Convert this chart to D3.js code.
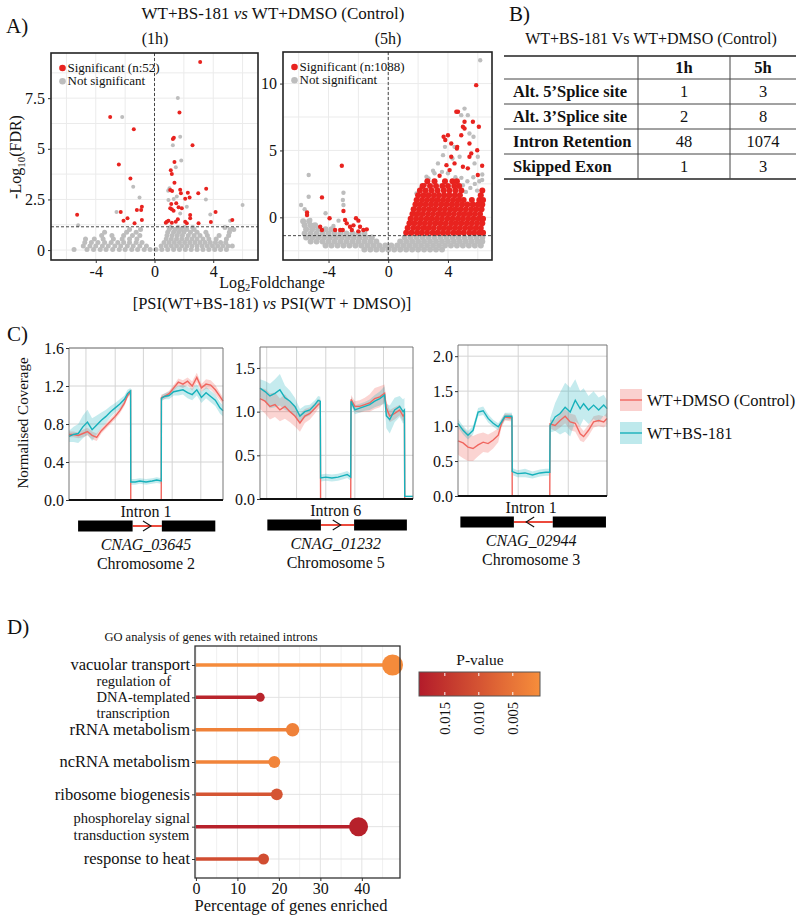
<!DOCTYPE html>
<html><head><meta charset="utf-8">
<script src="https://cdn.jsdelivr.net/npm/d3@7"></script>
<style>body{margin:0;background:#fff} svg{font-family:"Liberation Serif","Times New Roman",serif}</style>
</head><body><svg id="c" width="800" height="918"></svg>
<script>
// ================= DATA =================
// Panel A – volcano plots ([log2FC, -log10 FDR])
const h1Sig = [[3.11,9.29],[1.70,6.79],[-3.02,6.57],[-1.41,5.96],[1.32,5.55],[1.25,5.49],[2.59,5.17],[-2.43,4.22],[1.36,4.35],[1.11,3.94],[-1.64,3.53],[1.18,3.76],[1.36,3.33],[3.52,3.03],[1.07,2.97],[1.20,2.92],[1.75,2.98],[1.80,2.80],[2.27,2.83],[2.98,2.80],[2.39,2.60],[2.09,2.54],[1.48,2.31],[1.14,2.27],[-0.86,2.14],[-0.91,1.98],[-1.20,1.98],[1.07,2.06],[1.18,2.01],[1.30,1.94],[1.64,2.11],[1.86,2.06],[-5.27,1.75],[-2.30,1.88],[-1.84,1.57],[-2.11,1.45],[-1.36,1.32],[-0.86,1.48],[0.84,1.40],[0.95,1.45],[1.18,1.35],[1.45,1.40],[1.59,1.52],[2.09,1.40],[2.20,1.32],[2.43,1.57],[2.43,1.73],[3.00,1.32],[3.84,1.38],[4.16,1.88],[5.30,1.48],[0.77,1.35]];
const h1NsOut = [[1.59,7.51],[-2.20,6.57],[1.75,5.60],[1.25,5.17],[1.82,4.42],[1.45,4.09],[-1.45,3.13],[0.93,2.93],[1.52,2.64],[3.50,2.50],[-1.02,2.60],[-2.59,1.88],[6.00,2.22],[3.80,1.76],[1.75,1.81],[2.20,2.14],[-5.20,1.22],[5.15,1.45],[0.95,2.47],[1.02,3.05],[1.31,2.52]];
const h1NsRows = [
 [0.03,[-5.48,-4.6,-4.15,-3.7,-3.3,-2.85,-2.4,-2.0,-1.55,-1.15,-0.7,-0.3,0.1,0.5,0.9,1.3,1.7,2.1,2.5,2.9,3.3,3.7,4.1,4.5,4.9]],
 [0.2,[-4.85,-4.4,-4.0,-3.55,-3.15,-2.7,-2.3,-1.85,-1.45,-1.0,-0.55,0.45,0.8,1.15,1.5,1.85,2.2,2.55,2.9,3.25,3.6,3.95,4.3,4.65,5.0,5.3]],
 [0.37,[-4.75,-4.3,-3.85,-3.4,-2.95,-2.5,-2.1,-1.7,-1.25,-0.85,0.65,1.0,1.35,1.7,2.05,2.4,2.75,3.1,3.45,3.8,4.15,4.5,4.85]],
 [0.55,[-4.7,-4.1,-3.5,-2.8,-2.2,-1.7,-1.2,0.8,1.15,1.5,1.85,2.2,2.55,2.9,3.3,3.7,4.2,4.9]],
 [0.72,[-3.6,-2.9,-2.1,-1.5,-1.0,0.85,1.2,1.55,1.9,2.3,2.7,3.1,3.6,4.4,5.05]],
 [0.88,[-3.4,-1.9,-1.25,0.9,1.3,1.65,2.0,2.45,2.9,3.5,5.1]],
 [1.02,[-1.7,-0.95,1.0,1.4,1.8,2.2,2.7,5.15,5.4]],
 [1.12,[1.1,1.6,2.05,2.6,4.8]]
];
const h5SigOut = [[5.89,9.88],[4.67,7.89],[4.56,7.89],[5.11,7.14],[5.67,7.14],[5.00,6.77],[5.11,6.64],[6.07,6.77],[3.71,6.02],[3.82,5.78],[4.22,5.52],[5.44,5.52],[4.00,6.14],[4.89,6.14],[4.62,5.27],[5.44,4.53],[5.56,4.78],[5.96,5.02],[6.29,3.86],[5.00,3.78],[3.44,3.11],[4.11,3.53],[4.44,4.03],[4.22,4.53],[4.60,5.15],[2.44,2.41],[6.00,3.16],[5.33,3.66],[3.9,3.9],[-3.11,3.86],[-4.44,1.49],[-5.44,0.37],[-5.44,0.17],[-3.93,-0.07],[-3.0,0.47],[-2.89,-0.2],[-2.16,-0.07],[-2.0,-0.25],[-2.78,-0.45],[-3.22,-0.95],[-3.05,-0.95],[-4.56,-0.7],[-4.44,-0.95],[-2.56,-0.7],[-2.33,-0.6],[-1.89,-0.7],[-1.67,-0.95],[-1.44,-0.9],[-2.44,-0.95],[-2.0,-1.05],[-3.56,-0.95]];
const h5NsOut = [[6.16,11.74],[5.11,8.13],[4.89,7.64],[5.33,7.64],[4.44,5.27],[3.8,5.27],[3.67,4.65],[4.78,4.53],[5.71,6.02],[5.44,6.27],[4.3,4.4],[3.33,4.03],[3.0,3.48],[6.0,4.53],[5.78,4.03],[6.29,2.79],[2.56,3.03],[1.89,1.79],[-5.33,3.16],[-5.33,1.54],[-3.0,1.84],[-3.04,1.29],[-3.0,0.92],[-5.84,0.92],[-5.6,0.6],[-5.22,-0.2],[-5.0,-0.57],[-3.33,-0.25],[-3.67,-0.65],[-4.2,0.3],[2.2,2.2],[2.7,2.9],[3.1,3.3],[3.6,3.4],[5.2,1.9],[5.5,2.2],[5.8,2.5],[6.1,2.7],[5.3,2.7],[5.7,3.0],[6.3,3.2],[5.0,2.4],[4.9,2.95],[5.95,2.0],[4.5,3.0],[4.0,3.3]];
const h5NsRows = [
 [-2.4,[-1.6,-1.2,-0.8,-0.4,0,0.4,0.8,1.2,1.6,2.0,2.4,2.8,3.2,3.6]],
 [-2.1,[-4.2,-3.8,-3.4,-3.0,-2.6,-2.2,-1.8,-1.4,-1.0,-0.6,-0.2,0.2,0.6,1.0,1.4,1.8,2.2,2.6,3.0,3.4,3.8,4.2,4.6,5.0,5.4,5.8,6.2]],
 [-1.8,[-5.2,-4.8,-4.4,-4.0,-3.6,-3.2,-2.8,-2.4,-2.0,-1.6,-1.2,-0.8,0.8,1.2,1.6,2.0,2.4,2.8,3.2,3.6,4.0,4.4,4.8,5.2,5.6,6.0,6.3]],
 [-1.5,[-5.5,-5.1,-4.7,-4.3,-3.9,-3.5,-3.1,-2.7,-2.3,-1.9,-1.5,-1.1,1.1,1.5,1.9,2.3,2.7,3.1,3.5,3.9,4.3,4.7,5.1,5.5,5.9,6.3]],
 [-1.2,[-5.6,-5.2,-4.8,-4.4,-4.0,-3.6,-3.2,-2.8,-2.4,-2.0,-1.6]],
 [-0.9,[-5.5,-5.1,-4.7,-4.2,-3.8]],
 [-0.6,[-5.6,-5.2,-4.9]],
 [-0.3,[-5.7,-5.3]]
];
const h5SigRows = [
 [-1.15,[1.2,1.55,1.92,2.25,2.6,2.97,3.3,3.66,4.0,4.36,4.7,5.05,5.42,5.75,6.1,6.35]],
 [-0.8,[1.3,1.67,2.0,2.36,2.7,3.05,3.42,3.75,4.1,4.46,4.8,5.15,5.5,5.86,6.2]],
 [-0.45,[1.42,1.75,2.12,2.45,2.8,3.16,3.5,3.85,4.22,4.55,4.9,5.26,5.6,5.95,6.3]],
 [-0.1,[1.5,1.86,2.2,2.56,2.9,3.25,3.6,3.96,4.3,4.66,5.0,5.35,5.7,6.06,6.35]],
 [0.25,[1.62,1.95,2.3,2.66,3.0,3.36,3.7,4.05,4.4,4.76,5.1,5.45,5.8,6.15]],
 [0.6,[1.7,2.06,2.4,2.75,3.1,3.46,3.8,4.16,4.5,4.85,5.2,5.56,5.9,6.25]],
 [0.95,[1.82,2.15,2.5,2.86,3.2,3.55,3.9,4.26,4.6,4.95,5.3,5.66,6.0,6.3]],
 [1.3,[1.9,2.26,2.6,2.95,3.3,3.66,4.0,4.35,4.7,5.05,5.6,6.1,6.35]],
 [1.65,[2.0,2.36,2.7,3.06,3.4,3.75,4.1,4.46,4.8,6.2]],
 [2.0,[2.12,2.5,2.9,3.3,3.72,4.1,4.5,4.9,6.3]],
 [2.35,[2.3,2.8,3.2,3.62,4.0,4.42,4.75]],
 [2.7,[2.62,3.1,3.8,4.3,4.6]]
];
const h1Ticks = {x:[-4,0,4], y:[0,2.5,5,7.5]};
const h5Ticks = {x:[-4,0,4], y:[0,5,10]};
const h1Threshold = 1.15, h5Threshold = -1.37;

// Panel B – table
const tableCols = ["1h","5h"];
const tableRows = ["Alt. 5\u2019Splice site","Alt. 3\u2019Splice site","Intron Retention","Skipped Exon"];
const tableVals = [[1,3],[2,8],[48,1074],[1,3]];

// Panel C – normalised coverage (position along locus, 0–100)
const posC1 = [0,3,6,9,12,15,18,21,24,27,30,33,36,38,40,40.1,43,46,50,54,57,59.9,60,62,65,68,71,74,77,80,83,86,89,92,95,98,100];
const ctrlC1 = [0.69,0.69,0.68,0.70,0.72,0.68,0.66,0.73,0.78,0.83,0.88,0.94,1.02,1.10,1.14,0,0,0,0,0,0,0,1.08,1.09,1.12,1.18,1.24,1.22,1.25,1.20,1.29,1.18,1.22,1.21,1.16,1.09,1.04];
const ctrlErrC1 = [0.03,0.03,0.03,0.04,0.04,0.04,0.04,0.03,0.03,0.03,0.03,0.03,0.03,0.03,0.03,0,0,0,0,0,0,0,0.03,0.03,0.03,0.03,0.04,0.04,0.04,0.05,0.05,0.04,0.05,0.05,0.05,0.04,0.04];
const bsC1 = [0.67,0.69,0.70,0.77,0.82,0.74,0.79,0.84,0.88,0.93,0.97,1.01,1.06,1.12,1.15,0.19,0.19,0.20,0.19,0.20,0.21,0.20,1.07,1.09,1.10,1.14,1.15,1.16,1.13,1.11,1.16,1.08,1.13,1.09,1.05,0.97,0.94];
const bsErrC1 = [0.06,0.08,0.10,0.12,0.13,0.12,0.10,0.08,0.07,0.06,0.05,0.05,0.04,0.04,0.03,0.03,0.03,0.03,0.03,0.03,0.03,0.03,0.03,0.03,0.04,0.04,0.05,0.05,0.06,0.06,0.06,0.06,0.06,0.06,0.06,0.06,0.06];

const posC2 = [0,3.3,6.5,9.8,13,16.3,19.6,22.8,26.1,29.3,32.6,35.9,38,39.4,39.6,43,47,51,55,57,59.3,59.5,62,65.2,68.5,71.7,75,78.3,81.4,82.6,84.8,88,91.3,93.5,94.4,94.6,97,100];
const ctrlC2 = [1.15,1.12,1.06,1.08,1.02,1.06,1.00,0.95,0.87,0.95,0.98,1.04,1.08,1.10,0,0,0,0,0,0,0,1.14,1.06,1.06,1.08,1.10,1.15,1.17,1.21,1.04,0.95,0.98,1.02,0.95,0.97,0,0,0];
const ctrlErrC2 = [0.12,0.14,0.15,0.14,0.13,0.14,0.12,0.12,0.1,0.08,0.07,0.06,0.05,0.05,0,0,0,0,0,0,0,0.05,0.06,0.07,0.08,0.1,0.12,0.12,0.1,0.08,0.07,0.07,0.06,0.06,0.06,0,0,0];
const bsC2 = [1.27,1.23,1.18,1.21,1.25,1.16,1.12,1.06,0.95,1.00,1.02,1.08,1.13,1.12,0.24,0.25,0.24,0.25,0.27,0.28,0.25,1.12,1.02,1.04,1.06,1.08,1.12,1.15,1.19,0.95,0.91,1.02,1.06,1.00,1.02,0.03,0.03,0.03];
const bsErrC2 = [0.1,0.12,0.14,0.16,0.18,0.14,0.12,0.1,0.08,0.07,0.06,0.05,0.05,0.05,0.04,0.04,0.04,0.04,0.04,0.04,0.04,0.05,0.05,0.05,0.05,0.06,0.07,0.08,0.1,0.14,0.16,0.14,0.12,0.14,0.14,0.01,0.01,0.01];

const posC3 = [0,3.4,6.7,10.1,13.5,16.9,20.2,23.6,27,29.2,31.5,34.8,36.2,36.4,40,45,50,55,59,61.6,61.8,65.2,68.5,71.9,75.3,78.7,82,84.3,87.6,91,94.4,97.8,100];
const ctrlC3 = [0.79,0.76,0.70,0.68,0.73,0.77,0.75,0.80,0.87,1.04,1.13,1.12,1.12,0,0,0,0,0,0,0,1.03,1.01,1.08,1.14,1.06,1.04,0.89,0.85,0.94,1.06,1.08,1.06,1.11];
const ctrlErrC3 = [0.2,0.22,0.2,0.18,0.16,0.14,0.13,0.12,0.1,0.06,0.05,0.05,0.05,0,0,0,0,0,0,0,0.06,0.08,0.1,0.1,0.12,0.12,0.1,0.08,0.08,0.08,0.08,0.08,0.08];
const bsC3 = [1.04,0.94,0.87,0.94,1.20,1.22,1.11,1.04,0.99,1.06,1.14,1.14,1.14,0.35,0.32,0.33,0.30,0.33,0.34,0.34,1.01,1.13,1.18,1.27,1.20,1.37,1.25,1.32,1.23,1.30,1.23,1.30,1.25];
const bsErrC3 = [0.06,0.06,0.06,0.06,0.06,0.06,0.06,0.05,0.05,0.05,0.05,0.05,0.05,0.05,0.05,0.06,0.05,0.05,0.05,0.05,0.1,0.2,0.3,0.35,0.35,0.3,0.25,0.22,0.2,0.2,0.18,0.15,0.12];

const cTicks1 = [0,0.4,0.8,1.2,1.6], cTicks2 = [0,0.5,1.0,1.5], cTicks3 = [0,0.5,1.0,1.5,2.0];
const cGrid1 = [11,30,48.3,67,85.6], cGrid2 = [4.4,23.9,43,62,80.7], cGrid3 = [6.7,40.4,74];
const exonsC1 = [[5.9,41.3],[60.3,95]], exonsC2 = [[4.8,39.8],[61.5,96]], exonsC3 = [[1.6,37.5],[63.6,99.3]];
const intronC1 = [40.1,59.9], intronC2 = [39.6,59.4], intronC3 = [36.4,61.8];
const geneLabels = [["Intron 1","CNAG_03645","Chromosome 2"],["Intron 6","CNAG_01232","Chromosome 5"],["Intron 1","CNAG_02944","Chromosome 3"]];
const strand = [1,1,-1];
const seriesNames = ["WT+DMSO (Control)","WT+BS-181"];

// Panel D – GO lollipop
const goTerms = ["vacuolar transport","regulation of DNA-templated transcription","rRNA metabolism","ncRNA metabolism","ribosome biogenesis","phosphorelay signal transduction system","response to heat"];
const goLabelLines = [["vacuolar transport"],["regulation of","DNA-templated","transcription"],["rRNA metabolism"],["ncRNA metabolism"],["ribosome biogenesis"],["phosphorelay signal","transduction system"],["response to heat"]];
const goPercent = [47.4,15.5,23.3,18.9,19.5,39.2,16.3];
const goPValue = [0.0015,0.0172,0.0030,0.0025,0.0098,0.0178,0.0110];
const goCount = [22,4,9,7,7,18,6];
const goXTicks = [0,10,20,30,40];
const pTicks = [0.015,0.010,0.005];

// ================= DRAW =================
const svg = d3.select("#c");
const RED = "#e8231f", GREY = "#bdbdbd";
const CTRL = "#f0665f", BS = "#17b1bb";

function styleAxis(g, fs){
  g.attr("font-family",null).attr("font-size",fs);
  g.select(".domain").remove();
  g.selectAll(".tick line").attr("stroke","#333");
  g.selectAll(".tick text").attr("fill","#111");
}
function text(x,y,s,o={}){
  const t = svg.append("text").attr("x",x).attr("y",y).attr("font-size",o.fs||15)
    .attr("text-anchor",o.anchor||"start").attr("fill",o.fill||"#111").text(s);
  if(o.weight) t.attr("font-weight",o.weight);
  if(o.italic) t.attr("font-style","italic");
  return t;
}
const flat = rows => rows.flatMap(([yv,xs]) => xs.map(xv => [xv,yv]));

// ---- Panel A ----
text(6,33,"A)",{fs:21});
const tA = svg.append("text").attr("x",273).attr("y",19).attr("text-anchor","middle").attr("font-size",17).attr("fill","#111");
tA.append("tspan").text("WT+BS-181 ");
tA.append("tspan").attr("font-style","italic").text("vs");
tA.append("tspan").text(" WT+DMSO (Control)");
text(155,44,"(1h)",{fs:16,anchor:"middle"});
text(388,44,"(5h)",{fs:16,anchor:"middle"});

function volcano(c){
  const g = svg.append("g");
  const x = d3.scaleLinear().domain(c.xd).range([c.l,c.r]);
  const y = d3.scaleLinear().domain(c.yd).range([c.b,c.t]);
  g.selectAll(null).data(c.xGrid).join("line").attr("x1",d=>x(d)).attr("x2",d=>x(d)).attr("y1",c.t).attr("y2",c.b).attr("stroke","#ebebeb");
  g.selectAll(null).data(c.yGrid).join("line").attr("y1",d=>y(d)).attr("y2",d=>y(d)).attr("x1",c.l).attr("x2",c.r).attr("stroke","#ebebeb");
  const dots = (data,col,r) => g.append("g").selectAll("circle").data(data).join("circle")
      .attr("cx",d=>x(d[0])).attr("cy",d=>y(d[1])).attr("r",r).attr("fill",col);
  dots(flat(c.nsRows),GREY,c.rc);
  dots(c.nsOut,GREY,c.r0);
  if(c.sigRows) dots(flat(c.sigRows),RED,c.rc);
  dots(c.sigOut,RED,c.r0);
  g.append("line").attr("x1",c.l).attr("x2",c.r).attr("y1",y(c.thr)).attr("y2",y(c.thr)).attr("stroke","#333").attr("stroke-dasharray","3,2").attr("stroke-width",0.9);
  g.append("line").attr("x1",x(0)).attr("x2",x(0)).attr("y1",c.t).attr("y2",c.b).attr("stroke","#333").attr("stroke-dasharray","3,2").attr("stroke-width",0.9);
  g.append("rect").attr("x",c.l).attr("y",c.t).attr("width",c.r-c.l).attr("height",c.b-c.t).attr("fill","none").attr("stroke","#222").attr("stroke-width",1.6);
  const ax = g.append("g").attr("transform",`translate(0,${c.b})`).call(d3.axisBottom(x).tickValues(c.xt).tickSize(3).tickPadding(3).tickFormat(d=>String(d)));
  styleAxis(ax,16);
  const ay = g.append("g").attr("transform",`translate(${c.l},0)`).call(d3.axisLeft(y).tickValues(c.yt).tickSize(3).tickPadding(3).tickFormat(d=>String(d)));
  styleAxis(ay,16);
  // legend
  [[c.legSig,RED],["Not significant",GREY]].forEach(([lab,col],i)=>{
    g.append("circle").attr("cx",c.l+11.5).attr("cy",c.t+15+i*13.3).attr("r",3.3).attr("fill",col);
    g.append("text").attr("x",c.l+16.5).attr("y",c.t+19+i*13.3).attr("font-size",13).attr("fill","#111").text(lab);
  });
}
volcano({l:51,r:258,t:53,b:260,xd:[-7.05,7.05],yd:[-0.49,9.73],xGrid:[-6,-4,-2,0,2,4,6],yGrid:[0,1.25,2.5,3.75,5,6.25,7.5,8.75],
  nsRows:h1NsRows,nsOut:h1NsOut,sigOut:h1Sig,thr:h1Threshold,xt:h1Ticks.x,yt:h1Ticks.y,r0:2.0,rc:2.5,legSig:"Significant (n:52)"});
volcano({l:283,r:492,t:52,b:260,xd:[-7.05,6.95],yd:[-3.19,12.36],xGrid:[-6,-4,-2,0,2,4,6],yGrid:[-2.5,0,2.5,5,7.5,10],
  nsRows:h5NsRows,nsOut:h5NsOut,sigRows:h5SigRows,sigOut:h5SigOut,thr:h5Threshold,xt:h5Ticks.x,yt:h5Ticks.y,r0:2.2,rc:3.0,legSig:"Significant (n:1088)"});

const yl = svg.append("text").attr("transform","translate(21,157) rotate(-90)").attr("text-anchor","middle").attr("font-size",16).attr("fill","#111");
yl.append("tspan").text("-Log");
yl.append("tspan").attr("font-size",11).attr("dy",4).text("10");
yl.append("tspan").attr("dy",-4).text("(FDR)");
const xl = svg.append("text").attr("x",272).attr("y",288).attr("text-anchor","middle").attr("font-size",16).attr("fill","#111");
xl.append("tspan").text("Log");
xl.append("tspan").attr("font-size",10.5).attr("dy",3).text("2");
xl.append("tspan").attr("dy",-3).text("Foldchange");
const xl2 = svg.append("text").attr("x",272).attr("y",309).attr("text-anchor","middle").attr("font-size",16.5).attr("fill","#111");
xl2.append("tspan").text("[PSI(WT+BS-181) ");
xl2.append("tspan").attr("font-style","italic").text("vs");
xl2.append("tspan").text(" PSI(WT + DMSO)]");

// ---- Panel B ----
text(509,21,"B)",{fs:21});
text(651,44,"WT+BS-181 Vs WT+DMSO (Control)",{fs:16,anchor:"middle"});
const tb = {l:504,r:796,top:56,head:79,rowH:25,c1:638,c2:730};
const tg = svg.append("g");
const rowY = d3.scaleBand().domain(tableRows).range([tb.head, tb.head+tb.rowH*tableRows.length]);
const colX = d3.scaleOrdinal().domain(tableCols).range([(tb.c1+tb.c2)/2,(tb.c2+tb.r)/2]);
tg.append("line").attr("x1",tb.l).attr("x2",tb.r).attr("y1",tb.top).attr("y2",tb.top).attr("stroke","#222").attr("stroke-width",1.5);
tableRows.forEach((r,i)=>{
  const yy = rowY(r);
  tg.append("line").attr("x1",tb.l).attr("x2",tb.r).attr("y1",yy).attr("y2",yy).attr("stroke","#444").attr("stroke-width",1);
});
const tbBottom = tb.head+tb.rowH*tableRows.length;
tg.append("line").attr("x1",tb.l).attr("x2",tb.r).attr("y1",tbBottom).attr("y2",tbBottom).attr("stroke","#222").attr("stroke-width",1.5);
[tb.c1,tb.c2].forEach(cx=>tg.append("line").attr("x1",cx).attr("x2",cx).attr("y1",tb.top).attr("y2",tbBottom).attr("stroke","#444"));
tableCols.forEach(c=>text(colX(c),(tb.top+tb.head)/2+5.5,c,{fs:16.5,anchor:"middle",weight:"bold"}));
tableRows.forEach((r,i)=>{
  const cy = rowY(r)+rowY.bandwidth()/2+5.5;
  text(513,cy,r,{fs:16.5,weight:"bold"});
  tableCols.forEach((c,j)=>text(colX(c),cy,String(tableVals[i][j]),{fs:16.5,anchor:"middle"}));
});

// ---- Panel C ----
text(7,341,"C)",{fs:21});
svg.append("text").attr("transform","translate(28,423) rotate(-90)").attr("text-anchor","middle").attr("font-size",15).attr("fill","#111").text("Normalised Coverage");

function coverage(c){
  const g = svg.append("g");
  const x = d3.scaleLinear().domain([0,100]).range([c.l,c.r]);
  const y = d3.scaleLinear().domain([0,c.ymax]).range([c.b,c.t]);
  g.append("rect").attr("x",c.l).attr("y",c.t).attr("width",c.r-c.l).attr("height",c.b-c.t).attr("fill","#fff");
  g.selectAll(null).data(c.grid).join("line").attr("x1",d=>x(d)).attr("x2",d=>x(d)).attr("y1",c.t).attr("y2",c.b).attr("stroke","#d4d4d4");
  g.selectAll(null).data(c.ticks).join("line").attr("y1",d=>y(d)).attr("y2",d=>y(d)).attr("x1",c.l).attr("x2",c.r).attr("stroke","#d4d4d4");
  const idx = d3.range(c.pos.length);
  const area = (m,e) => d3.area().x(i=>x(c.pos[i])).y0(i=>y(Math.max(0,m[i]-e[i]))).y1(i=>y(m[i]+e[i]));
  const line = m => d3.line().x(i=>x(c.pos[i])).y(i=>y(m[i]));
  g.append("path").attr("d",area(c.ctrl,c.ctrlErr)(idx)).attr("fill",CTRL).attr("opacity",0.28);
  g.append("path").attr("d",area(c.bs,c.bsErr)(idx)).attr("fill",BS).attr("opacity",0.25);
  g.append("path").attr("d",line(c.ctrl)(idx)).attr("fill","none").attr("stroke",CTRL).attr("stroke-width",1.4);
  g.append("path").attr("d",line(c.bs)(idx)).attr("fill","none").attr("stroke",BS).attr("stroke-width",1.4);
  g.append("path").attr("d",`M${c.l},${c.b}V${c.t}H${c.r}V${c.b}`).attr("fill","none").attr("stroke","#777").attr("stroke-width",1);
  g.append("line").attr("x1",c.l).attr("x2",c.r).attr("y1",c.b).attr("y2",c.b).attr("stroke","#111").attr("stroke-width",2);
  const ay = g.append("g").attr("transform",`translate(${c.l},0)`).call(d3.axisLeft(y).tickValues(c.ticks).tickSize(3).tickPadding(2).tickFormat(d3.format(".1f")));
  styleAxis(ay,16);
  // gene model
  const gy = c.b + 26;
  const [e1,e2] = c.exons;
  g.append("line").attr("x1",x(e1[1])).attr("x2",x(e2[0])).attr("y1",gy).attr("y2",gy).attr("stroke","#ec4a3c").attr("stroke-width",2);
  c.exons.forEach(e=>g.append("rect").attr("x",x(e[0])).attr("y",gy-5.5).attr("width",x(e[1])-x(e[0])).attr("height",11).attr("fill","#000"));
  const ac = x((c.intron[0]+c.intron[1])/2) + c.dir*3, s = c.dir;
  g.append("path").attr("d",`M${ac-6*s},${gy-5}L${ac+2*s},${gy}L${ac-6*s},${gy+5}`).attr("fill","none").attr("stroke","#111").attr("stroke-width",1.1);
  const mid = x((c.intron[0]+c.intron[1])/2);
  g.append("text").attr("x",mid).attr("y",c.b+17).attr("text-anchor","middle").attr("font-size",16).attr("fill","#111").text(c.labels[0]);
  g.append("text").attr("x",mid).attr("y",c.b+50).attr("text-anchor","middle").attr("font-size",16).attr("font-style","italic").attr("fill","#111").text(c.labels[1]);
  g.append("text").attr("x",mid).attr("y",c.b+69).attr("text-anchor","middle").attr("font-size",16).attr("fill","#111").text(c.labels[2]);
}
coverage({l:69,r:223,t:348,b:500,ymax:1.6,ticks:cTicks1,grid:cGrid1,pos:posC1,ctrl:ctrlC1,ctrlErr:ctrlErrC1,bs:bsC1,bsErr:bsErrC1,exons:exonsC1,intron:intronC1,labels:geneLabels[0],dir:strand[0]});
coverage({l:260,r:413,t:347,b:499,ymax:1.74,ticks:cTicks2,grid:cGrid2,pos:posC2,ctrl:ctrlC2,ctrlErr:ctrlErrC2,bs:bsC2,bsErr:bsErrC2,exons:exonsC2,intron:intronC2,labels:geneLabels[1],dir:strand[1]});
coverage({l:458,r:607,t:345,b:496,ymax:2.16,ticks:cTicks3,grid:cGrid3,pos:posC3,ctrl:ctrlC3,ctrlErr:ctrlErrC3,bs:bsC3,bsErr:bsErrC3,exons:exonsC3,intron:intronC3,labels:geneLabels[2],dir:strand[2]});

// legend C
[[CTRL,0.3],[BS,0.28]].forEach(([col,op],i)=>{
  const yy = 389 + i*33;
  svg.append("rect").attr("x",620).attr("y",yy).attr("width",22).attr("height",22).attr("fill",col).attr("opacity",op);
  svg.append("line").attr("x1",620).attr("x2",642).attr("y1",yy+11).attr("y2",yy+11).attr("stroke",col).attr("stroke-width",1.4);
  text(647,yy+17,seriesNames[i],{fs:16.5});
});

// ---- Panel D ----
text(7,634,"D)",{fs:21});
text(211,641,"GO analysis of genes with retained introns",{fs:12.5,anchor:"middle"});
const dl=195, dr=400, dt=646, db=878;
const xD = d3.scaleLinear().domain([-0.225,49.2]).range([dl,dr]);
const yD = d3.scalePoint().domain(goTerms).range([665,859]);
const pCol = d3.scaleLinear().domain([0.0188,0.001]).range(["#b31b2a","#f78e3b"]).interpolate(d3.interpolateRgb);
const rD = d3.scaleSqrt().domain([0,22]).range([0,10.5]);
const gD = svg.append("g");
gD.selectAll(null).data([5,15,25,35,45]).join("line").attr("x1",d=>xD(d)).attr("x2",d=>xD(d)).attr("y1",dt).attr("y2",db).attr("stroke","#f0f0f0");
gD.selectAll(null).data(goXTicks).join("line").attr("x1",d=>xD(d)).attr("x2",d=>xD(d)).attr("y1",dt).attr("y2",db).attr("stroke","#e3e3e3");
gD.selectAll(null).data(goTerms).join("line").attr("x1",dl).attr("x2",dr).attr("y1",d=>yD(d)).attr("y2",d=>yD(d)).attr("stroke","#e3e3e3");
gD.selectAll(null).data(goTerms).join("line").attr("x1",xD(0)).attr("x2",(d,i)=>xD(goPercent[i])).attr("y1",d=>yD(d)).attr("y2",d=>yD(d)).attr("stroke",(d,i)=>pCol(goPValue[i])).attr("stroke-width",3.5);
gD.selectAll(null).data(goTerms).join("circle").attr("cx",(d,i)=>xD(goPercent[i])).attr("cy",d=>yD(d)).attr("r",(d,i)=>rD(goCount[i])).attr("fill",(d,i)=>pCol(goPValue[i]));
gD.append("rect").attr("x",dl).attr("y",dt).attr("width",dr-dl).attr("height",db-dt).attr("fill","none").attr("stroke","#333").attr("stroke-width",1.3);
const axD = gD.append("g").attr("transform",`translate(0,${db})`).call(d3.axisBottom(xD).tickValues(goXTicks).tickSize(3).tickPadding(2));
styleAxis(axD,16);
const ayD = gD.append("g").attr("transform",`translate(${dl},0)`).call(d3.axisLeft(yD).tickSize(3).tickFormat(""));
styleAxis(ayD,16);
goTerms.forEach((t,i)=>{
  const lines = goLabelLines[i];
  const multi = lines.length > 1, fs = multi ? 14.5 : 16.5, lh = 16.1;
  const tt = gD.append("text").attr("font-size",fs).attr("fill","#111");
  lines.forEach((ln,k)=>tt.append("tspan").attr("y",yD(t)+0.33*fs+(k-(lines.length-1)/2)*lh).text(ln));
  const w = d3.max(tt.selectAll("tspan").nodes(),n=>n.getComputedTextLength());
  tt.selectAll("tspan").attr("x",dl-5-w);
});
text(291,911,"Percentage of genes enriched",{fs:16.5,anchor:"middle"});

// colourbar
const cbl=419, cbr=540, cbt=672, cbb=696;
const xP = d3.scaleLinear().domain([0.0188,0.001]).range([cbl,cbr]);
const defs = svg.append("defs");
const grad = defs.append("linearGradient").attr("id","pg").attr("x1","0%").attr("x2","100%");
d3.range(0,1.0001,0.1).forEach(f=>grad.append("stop").attr("offset",f).attr("stop-color",pCol(xP.invert(cbl+f*(cbr-cbl)))));
svg.append("rect").attr("x",cbl).attr("y",cbt).attr("width",cbr-cbl).attr("height",cbb-cbt).attr("fill","url(#pg)").attr("stroke","#555").attr("stroke-width",1);
pTicks.forEach(p=>{
  svg.append("line").attr("x1",xP(p)).attr("x2",xP(p)).attr("y1",cbt+1).attr("y2",cbt+4).attr("stroke","#fff");
  svg.append("line").attr("x1",xP(p)).attr("x2",xP(p)).attr("y1",cbb-4).attr("y2",cbb-1).attr("stroke","#fff");
  svg.append("text").attr("transform",`translate(${xP(p)+5},${cbb+6}) rotate(-90)`).attr("text-anchor","end").attr("font-size",14.5).attr("fill","#111").text(d3.format(".3f")(p));
});
text(480,665,"P-value",{fs:15.5,anchor:"middle"});
</script></body></html>
